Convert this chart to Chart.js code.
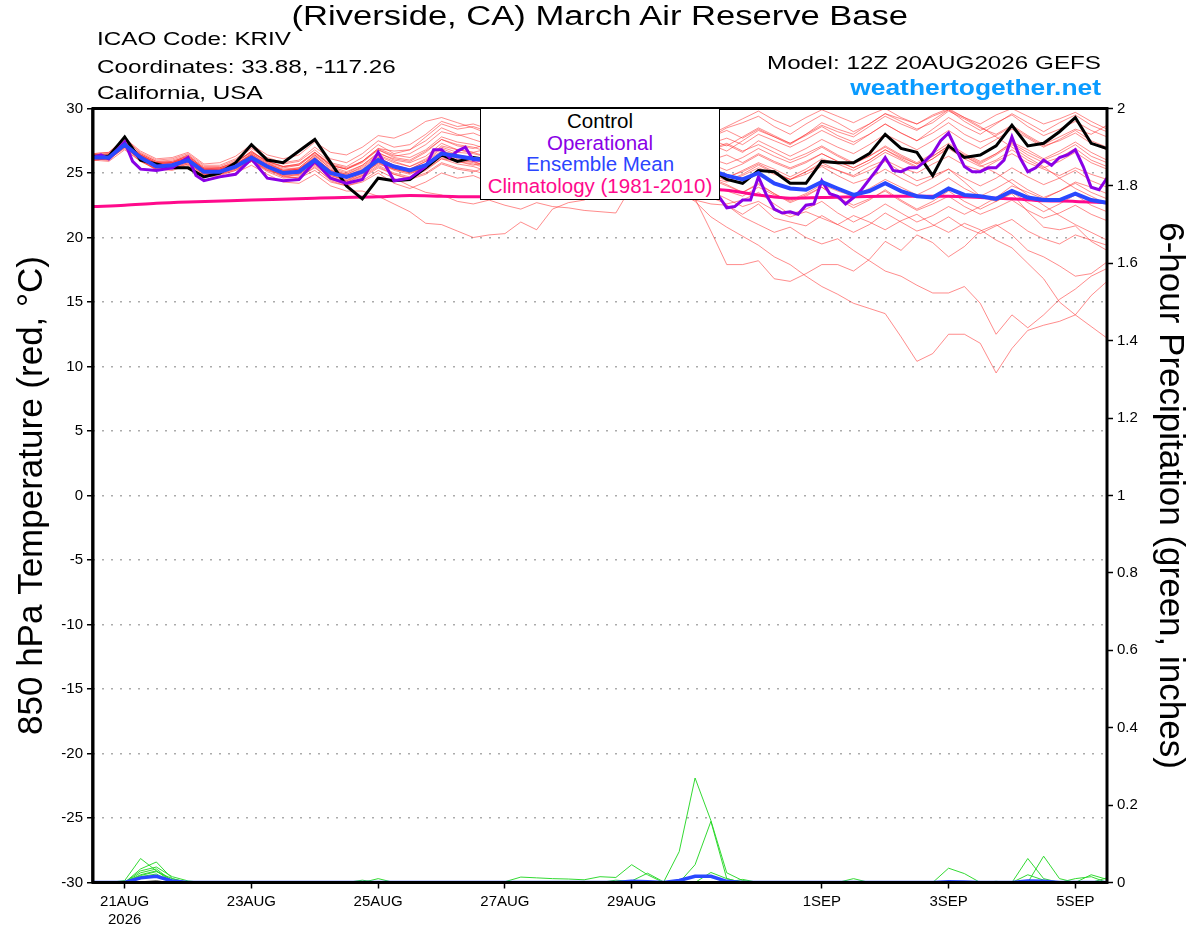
<!DOCTYPE html>
<html>
<head>
<meta charset="utf-8">
<script src="https://cdn.jsdelivr.net/npm/chart.js@4/dist/chart.umd.min.js"></script>
<style>
  html, body { margin:0; padding:0; background:#fff; }
  #wrap { position:relative; width:1200px; height:927px; overflow:hidden; font-family:'Liberation Sans', Arial, sans-serif; }
  #wrap canvas { position:absolute; left:0; top:0; }
  .txt { position:absolute; white-space:nowrap; line-height:1; color:#000; z-index:5; }
  .sx { display:inline-block; }
  #legendBox { position:absolute; left:480px; top:107.5px; width:240px; height:92px; box-sizing:border-box;
    border:1.5px solid #000; background:#fff; z-index:6; text-align:center; font-size:20.5px; line-height:21.5px; padding-top:1.5px; }
</style>
</head>
<body>
<div id="wrap">
  <canvas id="c"></canvas>
  <div class="txt" style="left:0;width:1200px;top:3px;text-align:center;font-size:27px;"><span class="sx" style="transform:scaleX(1.28);transform-origin:center;">(Riverside, CA) March Air Reserve Base</span></div>
  <div class="txt" style="left:97px;top:30px;font-size:18.5px;"><span class="sx" style="transform:scaleX(1.31);transform-origin:left;">ICAO Code: KRIV</span></div>
  <div class="txt" style="left:97px;top:58px;font-size:18.5px;"><span class="sx" style="transform:scaleX(1.31);transform-origin:left;">Coordinates: 33.88, -117.26</span></div>
  <div class="txt" style="left:97px;top:83.5px;font-size:18.5px;"><span class="sx" style="transform:scaleX(1.31);transform-origin:left;">California, USA</span></div>
  <div class="txt" style="right:99px;top:54px;font-size:18.5px;text-align:right;"><span class="sx" style="transform:scaleX(1.31);transform-origin:right;">Model: 12Z 20AUG2026 GEFS</span></div>
  <div class="txt" style="right:99px;top:77px;font-size:22px;font-weight:bold;color:#0a9bff;text-align:right;"><span class="sx" style="transform:scaleX(1.2);transform-origin:right;">weathertogether.net</span></div>
  <div id="legendBox">
    <div style="color:#000">Control</div>
    <div style="color:#8a00e6">Operational</div>
    <div style="color:#2b45ff">Ensemble Mean</div>
    <div style="color:#ff0a8c">Climatology (1981-2010)</div>
  </div>
</div>
<script>
// ---- time axis: index = 6-hour steps from 20AUG2026 12Z (0) to 5SEP2026 12Z (64)
const xTickPos = [2, 10, 18, 26, 34, 46, 54, 62];
const xTickLabels = [['21AUG', '2026'], '23AUG', '25AUG', '27AUG', '29AUG', '1SEP', '3SEP', '5SEP'];

// ---- 850 hPa temperature (deg C)
const controlT = [
  26.3,26.3,27.8,26.0,25.7,25.4,25.4,24.7,
  25.0,25.8,27.2,26.0,25.8,26.7,27.6,25.8,
  24.0,23.0,24.6,24.4,24.5,25.4,26.4,25.9,
  26.2,26.0,26.5,26.1,25.9,26.4,26.8,26.2,
  25.9,26.3,26.6,26.0,25.6,25.4,25.8,25.3,
  24.5,24.2,25.2,25.1,24.2,24.2,25.9,25.8,
  25.8,26.5,28.0,26.9,26.6,24.8,27.1,26.2,
  26.4,27.1,28.7,27.1,27.3,28.2,29.3,27.3,
  26.9];

const meanT = [
  26.2,26.2,27.2,26.2,25.5,25.6,26.0,25.1,
  25.1,25.5,26.2,25.5,25.0,25.1,26.0,25.0,
  24.7,25.1,26.0,25.5,25.2,25.6,26.5,26.3,
  26.1,26.0,25.8,25.7,26.0,25.6,25.4,25.5,
  25.8,25.4,25.2,25.3,25.6,25.3,25.0,25.2,
  24.8,24.5,25.0,24.2,23.8,23.7,24.3,23.8,
  23.3,23.6,24.2,23.6,23.2,23.1,23.8,23.3,
  23.2,23.0,23.6,23.1,22.9,22.9,23.4,22.9,
  22.7];

const operationalX = [0,0.5,1,2,2.5,3,4,5,6,6.5,7,8,9,10,11,12,13,14,15,16,17,18,19,20,21,21.5,22,22.5,23,23.5,24,
  25,26,27,28,29,30,31,32,33,34,35,36,37,38,39,39.5,40,40.5,41,41.5,42,42.5,43,43.5,44,44.5,45,45.5,46,46.5,47,47.5,
  48,48.5,49,49.5,50,50.5,51,51.5,52,52.5,53,53.5,54,54.5,55,55.5,56,56.5,57,57.5,58,58.5,59,59.5,60,60.5,61,61.5,62,62.5,63,63.5,64];
const operationalT = [26.2,26.4,26.1,27.4,25.9,25.3,25.2,25.4,26.2,24.8,24.4,24.7,24.9,26.1,24.6,24.4,24.5,25.9,24.6,24.2,24.5,26.6,24.4,24.6,25.5,26.8,26.8,26.2,26.7,27.0,26.0,
  26.0,26.4,25.8,25.6,26.0,26.6,26.0,25.7,26.1,26.3,25.6,25.2,24.8,24.2,23.6,23.2,22.3,22.4,22.9,22.9,24.7,23.3,22.2,21.9,22.0,21.8,22.5,22.6,24.4,23.4,23.2,22.6,
  23.1,23.7,24.5,25.3,26.2,25.2,25.1,25.4,25.4,25.9,26.5,27.5,28.1,26.8,25.5,25.1,25.1,25.4,25.4,26.0,27.8,26.2,25.1,25.4,26.0,25.6,26.2,26.4,26.8,25.5,23.9,23.7,24.6];

const climX = [0,2,4,6,10,14,18,20,22,24,28,32,36,39.5,42,44,46,50,54,56,58,60,62,64];
const climT = [22.4,22.5,22.65,22.75,22.9,23.05,23.15,23.25,23.2,23.15,23.3,23.45,23.6,23.7,23.3,23.05,23.1,23.2,23.2,23.1,23.0,22.85,22.8,22.7];

// ---- ensemble members (red)
const m01 = [26.4,26.5,27.5,26.4,25.8,25.9,26.3,25.4, 25.4,25.9,26.6,25.9,25.5,25.7,26.6,25.6, 25.3,25.9,26.9,26.7,26.8,27.8,28.8,28.4, 28.6,28.2,27.9,28.3,28.0,27.6,28.1,27.9, 28.4,27.8,27.5,27.9,28.3,27.6,27.2,27.8, 28.5,28.9,29.4,28.6,28.0,28.8,29.5,28.9, 28.2,28.8,29.6,29.0,28.4,28.9,29.8,29.2, 28.5,28.0,28.7,27.9,27.2,27.8,28.4,28.0, 28.7];
const m02 = [26.0,26.1,27.0,26.0,25.2,25.4,25.7,24.9, 24.8,25.2,25.9,25.3,24.8,24.6,25.5,24.4, 24.0,24.3,25.0,24.2,23.8,24.3,25.0,24.6, 24.8,24.3,24.6,24.2,24.5,24.0,23.6,24.1, 24.3,23.8,24.2,23.9,24.1,23.5,22.8,21.6, 20.8,20.1,19.4,18.5,17.9,17.0,16.2,15.6, 14.9,14.5,14.1,12.3,10.4,11.0,12.5,12.5, 11.8,9.5,11.4,12.8,13.2,13.5,14.0,15.5, 16.6];
const m03 = [26.3,26.4,27.3,26.5,25.9,25.8,26.4,25.3, 25.4,25.8,26.7,25.8,25.2,25.4,26.4,25.3, 24.9,25.5,26.4,25.9,25.5,26.0,27.0,26.6, 26.5,26.2,25.9,26.4,26.1,25.7,26.0,25.6, 25.9,25.5,25.2,25.6,25.0,24.2,23.0,20.5, 17.9,17.9,18.2,16.8,16.6,17.2,17.9,17.9, 17.4,18.3,19.7,19.0,20.2,19.6,18.5,19.3, 20.5,21.0,20.2,19.0,18.5,17.8,17.0,17.2, 18.1];
const m04 = [26.1,26.0,27.1,26.1,25.4,25.5,25.9,25.0, 24.9,25.4,26.0,25.2,24.9,25.0,25.8,24.8, 24.4,25.0,25.7,25.3,25.0,25.3,26.1,25.9, 25.6,25.9,25.5,25.2,25.6,25.3,24.9,25.2, 25.5,25.0,24.7,25.1,24.6,24.9,24.2,23.6, 23.0,22.4,22.8,22.1,21.6,22.0,21.5,21.0, 21.7,21.2,20.6,21.3,21.8,21.0,20.4,21.1, 20.6,19.8,19.2,18.0,16.8,15.0,14.0,13.1, 12.2];
const m05 = [26.3,26.2,27.3,26.3,25.6,25.5,26.1,25.2, 25.2,25.4,26.3,25.6,25.1,25.3,26.2,25.2, 24.8,25.2,26.2,25.6,25.3,25.9,26.7,26.4, 26.0,25.7,25.4,25.8,25.5,25.1,25.4,25.0, 24.7,24.3,24.6,24.0,23.7,23.2,22.9,22.6, 22.5,21.6,21.0,20.4,20.8,20.0,19.5,19.9, 19.0,18.2,17.4,17.0,16.3,15.7,15.7,16.2, 14.9,12.5,14.0,13.0,14.0,15.2,16.0,17.0, 17.6];
const m06 = [26.0,25.9,26.8,25.9,25.3,25.2,25.6,24.8, 24.7,25.0,25.6,24.9,24.3,24.2,24.9,24.0, 23.6,23.6,23.2,22.6,22.0,21.1,21.0,20.5, 20.0,20.2,20.3,21.2,20.6,22.2,22.7,22.9, 23.5,24.1,24.5,24.2,24.8,24.4,25.0,24.6, 24.3,24.8,25.4,24.9,24.5,25.1,25.6,25.2, 24.8,25.5,26.0,25.4,25.0,25.7,26.3,25.6, 25.2,25.9,26.5,25.8,25.3,24.8,25.4,24.9, 24.5];
const m07 = [26.4,26.3,27.4,26.3,25.6,25.8,26.2,25.3, 25.2,25.5,26.0,25.4,24.7,24.6,25.2,24.3, 24.0,24.4,25.2,24.6,24.0,23.5,23.3,22.8, 22.6,22.9,22.5,22.2,22.7,22.4,22.3,22.1, 22.0,21.9,24.0,23.6,24.2,24.8,25.3,25.0, 24.6,25.2,25.8,25.3,24.7,25.3,26.1,25.7, 25.2,25.8,26.6,26.0,25.4,26.1,27.0,26.3, 25.7,26.4,27.2,26.4,25.8,26.2,26.9,26.0, 25.5];
const m08 = [26.2,26.3,27.1,26.2,25.5,25.7,26.1,25.1, 25.0,25.6,26.4,25.5,25.0,25.2,26.1,25.1, 24.6,25.0,25.9,25.3,25.0,25.5,26.3,26.0, 25.8,25.4,25.6,25.2,25.7,25.4,25.1,25.5, 25.8,25.2,24.9,25.3,24.8,24.1,23.5,23.4, 22.5,21.8,22.6,21.5,21.2,20.9,21.7,21.0, 20.4,21.0,21.9,21.2,20.5,20.9,21.6,20.8, 20.3,20.9,21.4,20.5,19.9,19.5,20.2,19.8, 19.4];
const m09 = [26.5,26.6,27.6,26.6,26.0,26.1,26.5,25.6, 25.6,26.1,27.0,26.2,25.8,26.0,27.0,26.1, 25.8,26.5,27.5,27.0,27.2,28.0,29.0,28.6, 28.8,28.4,28.0,28.5,28.8,28.2,27.8,28.3, 28.6,28.0,27.6,28.1,28.5,27.9,27.4,28.0, 28.6,29.2,29.8,29.1,28.6,29.3,29.9,29.4, 28.9,29.5,30.0,29.3,28.8,29.4,29.9,29.0, 28.3,28.9,29.5,28.6,27.9,28.4,29.0,28.3, 27.8];
const m10 = [26.2,26.4,27.3,26.4,25.7,25.8,26.2,25.3, 25.3,25.7,26.5,25.8,25.4,25.6,26.5,25.6, 25.3,25.9,26.8,26.3,26.5,27.2,28.2,27.9, 28.1,27.6,27.4,27.8,27.2,26.9,27.3,27.0, 27.4,26.8,26.5,27.0,27.3,26.6,26.2,26.8, 27.2,26.6,27.5,26.9,26.3,26.9,27.6,27.0, 26.5,27.2,28.0,27.4,26.8,27.5,28.3,27.5, 26.9,27.6,28.4,27.7,27.0,27.6,28.3,27.5, 27.0];
const m11 = [26.0,26.1,26.9,25.9,25.3,25.3,25.7,24.9, 24.9,25.3,26.0,25.3,24.8,24.9,25.7,24.8, 24.5,24.9,25.8,25.3,25.1,25.4,26.2,25.9, 25.7,25.3,25.0,25.5,25.8,25.3,24.9,25.4, 25.8,25.3,24.9,25.4,25.7,25.1,24.6,24.0, 23.6,23.2,23.9,23.3,22.9,23.4,24.1,23.6, 23.2,23.8,24.5,23.9,23.3,23.9,24.6,23.8, 23.2,23.8,24.5,23.7,23.1,23.6,24.2,23.5, 23.0];
const m12 = [26.3,26.2,27.2,26.2,25.6,25.6,26.0,25.1, 25.1,25.5,26.3,25.6,25.2,25.3,26.3,25.4, 25.0,25.6,26.5,26.1,25.9,26.6,27.6,27.2, 27.0,26.6,26.2,26.7,27.0,26.5,26.0,26.4, 26.8,26.3,25.9,26.3,26.6,26.0,25.5,26.0, 26.4,25.8,26.5,25.9,25.4,25.9,26.5,25.9, 25.4,26.0,26.8,26.1,25.5,26.1,26.9,26.1, 25.5,26.0,26.8,26.0,25.4,25.9,26.6,25.8, 25.3];
const m13 = [26.1,26.2,27.1,26.1,25.4,25.6,25.9,25.0, 25.0,25.4,26.1,25.4,24.9,24.8,25.6,24.6, 24.3,24.7,25.5,24.9,24.6,25.0,25.8,25.4, 25.2,24.8,25.1,24.7,24.4,24.9,25.3,24.8, 24.5,24.9,25.4,24.8,24.3,24.7,25.2,24.6, 24.1,23.5,24.1,23.4,22.8,23.3,23.9,23.1, 22.5,23.0,23.6,22.8,22.1,22.6,23.2,22.4, 21.8,22.3,22.9,22.1,21.5,21.9,22.5,21.8, 21.3];
const m14 = [26.4,26.5,27.7,26.5,25.9,26.0,26.4,25.5, 25.5,26.0,26.9,26.1,25.7,25.9,26.8,25.8, 25.5,26.2,27.2,26.5,26.8,27.5,28.5,28.0, 27.6,27.2,26.8,27.4,27.9,27.5,27.1,27.6, 28.0,27.4,27.0,27.5,27.8,27.2,26.8,27.3, 27.7,27.2,28.0,27.5,27.0,27.6,28.3,27.7, 27.2,28.0,28.8,28.1,27.5,28.4,29.3,28.6, 28.0,28.8,29.6,28.9,28.2,28.9,29.5,28.7, 28.2];
const m15 = [26.2,26.3,27.4,26.3,25.7,25.7,26.1,25.2, 25.3,25.6,26.5,25.7,25.3,25.4,26.4,25.5, 25.1,25.6,26.6,26.0,25.8,26.3,27.3,26.8, 26.6,26.9,27.3,26.8,26.4,26.9,27.4,26.9, 26.5,27.0,27.6,27.0,26.6,27.1,27.8,27.2, 26.7,27.5,28.3,27.8,27.2,28.0,28.9,28.4, 28.0,28.8,29.6,29.2,28.8,29.5,30.0,29.3, 28.6,27.8,27.0,26.2,25.5,24.6,23.8,23.2, 22.6];
const m16 = [26.1,26.0,27.0,26.0,25.4,25.4,25.8,24.9, 24.9,25.2,25.9,25.1,24.6,24.7,25.4,24.5, 24.1,24.6,25.4,24.9,24.5,24.9,25.7,25.3, 25.1,25.5,25.9,25.3,24.9,25.4,25.9,25.3, 24.9,25.3,25.8,25.2,24.7,25.1,25.5,24.9, 24.4,24.9,25.6,25.0,24.5,25.1,25.8,25.2, 24.7,25.2,25.9,25.1,24.4,24.8,25.3,24.3, 23.2,22.8,23.4,22.0,20.8,20.6,20.9,19.7, 19.0];
const m17 = [26.3,26.2,27.3,26.3,25.5,25.7,26.1,25.2, 25.1,25.5,26.2,25.5,24.9,25.0,25.9,24.9, 24.4,24.8,25.8,25.2,24.9,25.5,26.4,26.0, 25.9,25.5,25.8,26.2,25.7,25.3,25.7,26.1, 25.6,25.2,25.6,26.0,25.5,25.0,25.4,25.1, 24.7,25.1,25.7,25.1,24.5,24.9,25.5,24.8, 24.2,24.6,25.3,24.6,24.0,24.6,25.3,24.6, 24.0,24.6,25.4,24.7,24.1,24.6,25.2,24.4, 23.9];
const m18 = [26.0,26.1,27.0,26.0,25.3,25.5,25.8,25.0, 25.0,25.3,25.9,25.2,24.7,24.9,25.7,24.7, 24.3,24.8,25.6,25.0,24.7,25.2,26.1,25.7, 25.5,25.1,25.4,25.0,24.7,25.1,25.5,25.0, 24.6,25.0,25.4,24.9,24.5,24.0,23.6,23.1, 22.6,22.9,23.5,22.6,21.8,22.2,22.8,21.9, 21.2,21.8,22.6,21.9,21.2,21.7,22.4,21.8, 22.4,23.1,24.0,23.5,23.0,23.6,24.3,23.9, 23.4];
const m19 = [26.5,26.6,27.7,26.7,26.1,26.2,26.6,25.7, 25.8,26.3,27.2,26.4,26.1,26.4,27.4,26.6, 26.4,27.0,27.9,27.7,28.2,29.0,29.3,28.9, 28.5,28.0,27.5,27.9,28.3,27.8,27.3,27.7, 28.1,27.5,27.0,27.4,27.7,27.1,26.5,26.9, 27.3,26.7,27.2,26.6,26.0,26.5,27.1,26.4, 25.8,26.3,27.0,26.3,25.7,26.3,27.1,26.4, 25.8,26.5,27.4,26.8,26.1,26.7,27.4,26.6, 26.0];
const m20 = [26.2,26.1,27.2,26.1,25.5,25.6,25.9,25.1, 25.2,25.6,26.3,25.5,25.0,25.1,25.9,25.0, 24.6,25.1,26.0,25.4,25.1,25.7,26.6,26.1, 25.9,25.4,25.0,25.4,25.7,25.2,24.8,25.2, 25.5,24.9,24.5,24.9,25.2,24.6,24.1,24.5, 24.0,23.5,24.2,23.4,22.7,23.2,23.9,23.0, 22.3,22.9,23.7,22.9,22.2,22.8,23.6,22.8, 22.2,22.8,23.5,22.7,22.0,22.6,23.3,22.5, 22.0];
const m21 = [26.3,26.4,27.4,26.4,25.8,25.9,26.3,25.4, 25.4,25.8,26.6,25.9,25.5,25.7,26.6,25.7, 25.4,25.9,26.9,26.4,26.2,26.8,27.8,27.4, 27.2,26.8,27.1,27.6,27.2,26.8,27.3,27.8, 27.4,26.9,27.3,27.8,27.3,26.8,27.2,27.6, 27.1,27.8,28.5,27.9,27.3,28.0,28.7,28.2, 27.8,28.6,29.4,28.8,28.3,29.1,29.9,29.3, 28.8,29.5,30.0,29.4,28.8,29.2,29.7,29.0, 28.4];
const m22 = [26.1,26.2,27.2,26.2,25.6,25.6,26.1,25.2, 25.2,25.7,26.4,25.6,25.1,25.3,26.2,25.2, 24.9,25.4,26.3,25.8,25.5,26.1,27.1,26.8, 26.6,26.2,26.5,26.1,25.8,26.3,26.7,26.2, 25.8,26.3,26.8,26.2,25.8,26.2,26.7,26.1, 25.7,26.2,26.9,26.3,25.8,26.3,27.0,26.3, 25.7,26.3,27.1,26.4,25.8,26.5,27.3,26.5, 25.9,26.5,27.3,26.6,26.0,26.5,27.2,26.3, 25.8];
const m23 = [26.4,26.3,27.4,26.4,25.7,25.8,26.2,25.3, 25.3,25.7,26.4,25.7,25.2,25.3,26.1,25.2, 24.8,25.3,26.2,25.6,25.3,25.9,26.9,26.4, 26.2,25.8,26.1,25.7,25.4,25.9,26.3,25.8, 25.4,25.8,26.3,25.7,25.3,25.8,26.3,25.7, 25.2,25.7,26.4,25.8,25.3,25.8,26.5,25.9, 25.4,26.0,26.8,26.2,25.7,26.3,27.1,26.3, 25.6,25.0,24.2,23.3,22.5,21.7,21.0,20.4, 19.8];
const m24 = [26.2,26.3,27.3,26.4,25.8,25.8,26.2,25.3, 25.3,25.8,26.7,25.9,25.5,25.6,26.6,25.6, 25.3,25.8,26.8,26.2,26.0,26.7,27.6,27.1, 26.9,27.3,27.7,27.2,26.8,27.3,27.7,27.2, 26.8,27.2,27.6,27.0,26.6,27.0,27.5,27.8, 28.3,27.7,28.4,27.8,27.3,27.9,28.6,27.9, 27.4,28.0,28.8,28.1,27.5,28.1,28.9,28.0, 27.4,27.9,28.6,27.8,27.1,27.5,28.1,27.3, 26.8];
const memberT = [m01,m02,m03,m04,m05,m06,m07,m08,m09,m10,m11,m12,m13,m14,m15,m16,m17,m18,m19,m20,m21,m22,m23,m24];

// ---- 6-hour precipitation (inches)
const precipMean = [
  0,0,0,0.012,0.016,0.004,0,0, 0,0,0,0,0,0,0,0,
  0,0,0,0,0,0,0,0, 0,0,0,0,0,0,0,0,
  0,0,0.003,0.002,0,0.005,0.016,0.016, 0.003,0,0,0,0,0,0,0,
  0,0,0,0,0,0,0.002,0.001, 0,0,0,0.004,0.003,0,0,0,
  0];
const precipControl = [
  0,0,0,0.002,0.004,0,0,0, 0,0,0,0,0,0,0,0,
  0,0,0,0,0,0,0,0, 0,0,0,0,0,0,0,0,
  0,0,0,0,0,0,0.002,0.001, 0,0,0,0,0,0,0,0,
  0,0,0,0,0,0,0,0, 0,0,0,0,0,0,0,0,
  0];
const g01 = [0,0,0.005,0.062,0.030,0.005,0,0, 0,0,0,0,0,0,0,0, 0,0,0,0,0,0,0,0, 0,0,0,0,0,0,0,0, 0,0,0,0,0,0.080,0.270,0.160, 0.025,0.005,0,0,0,0,0,0, 0,0,0,0,0,0,0,0, 0,0,0,0.062,0.010,0,0,0, 0];
const g02 = [0,0,0,0.035,0.053,0.010,0,0, 0,0,0,0,0,0,0,0, 0,0,0,0,0,0,0,0, 0,0,0,0,0,0,0,0, 0,0,0,0,0,0,0.046,0.158, 0.010,0,0,0,0,0,0,0, 0,0,0,0,0,0,0.037,0.023, 0,0,0,0,0,0,0,0, 0];
const g03 = [0,0,0,0.030,0.040,0.015,0.004,0, 0,0,0,0,0,0,0,0, 0,0,0,0,0,0,0,0, 0,0,0.002,0.014,0.012,0.010,0.009,0.007, 0.015,0.013,0.046,0.020,0,0,0,0, 0,0,0,0,0,0,0,0, 0,0,0,0,0,0,0,0, 0,0,0,0,0.068,0.010,0,0.020, 0.008];
const g04 = [0,0,0,0.025,0.035,0.004,0,0, 0,0,0,0,0,0,0,0, 0,0,0,0,0,0,0,0, 0,0,0,0,0,0,0,0, 0,0,0.004,0.024,0.002,0,0,0.026, 0.010,0,0,0,0,0,0,0, 0.010,0,0,0,0,0,0,0, 0,0,0,0,0,0,0,0, 0];
const g05 = [0,0,0,0.020,0.030,0,0,0, 0,0,0,0,0,0,0,0, 0,0,0.010,0,0,0,0,0, 0,0,0,0,0,0,0,0, 0,0,0,0,0,0,0,0, 0,0,0,0,0,0,0,0, 0,0,0,0,0,0,0,0, 0,0,0,0.020,0.006,0,0.010,0.015, 0];
const g06 = [0,0,0,0.018,0.028,0.010,0,0, 0,0,0,0,0,0,0,0, 0,0,0,0,0,0,0,0, 0,0,0,0,0,0,0,0, 0,0,0,0,0,0,0,0, 0,0.008,0,0,0,0,0,0, 0,0,0,0,0,0,0,0, 0,0,0,0,0,0,0,0, 0.012];
const g07 = [0,0,0.003,0.015,0.022,0,0,0, 0,0,0,0,0,0,0,0, 0,0.006,0,0,0,0,0,0, 0,0,0,0,0,0,0,0, 0,0,0,0,0,0,0,0, 0,0,0,0,0,0,0,0, 0,0,0,0,0,0,0,0, 0,0.003,0,0,0,0,0,0, 0];
const g08 = [0,0,0,0.010,0.018,0,0,0, 0,0,0,0,0,0,0,0, 0,0,0,0,0,0,0,0, 0,0,0,0,0,0,0,0, 0,0.006,0.003,0,0,0,0,0, 0,0,0,0,0,0,0,0, 0,0,0,0,0,0,0,0, 0,0,0,0,0,0,0,0, 0];
const memberP = [g01,g02,g03,g04,g05,g06,g07,g08];

// ---- build datasets
const xy = arr => arr.map((v, i) => ({x: i, y: v}));
const pairs = (xs, ys) => xs.map((x, i) => ({x: x, y: ys[i]}));
const base = {pointRadius: 0, pointHoverRadius: 0, fill: false, tension: 0, clip: 0};

const datasets = [
  Object.assign({}, base, {label: 'Ensemble Mean', data: xy(meanT), borderColor: '#2a48ff', borderWidth: 4, yAxisID: 'y'}),
  Object.assign({}, base, {label: 'Operational', data: pairs(operationalX, operationalT), borderColor: '#8a00e6', borderWidth: 3, yAxisID: 'y'}),
  Object.assign({}, base, {label: 'Control', data: xy(controlT), borderColor: '#000000', borderWidth: 3, yAxisID: 'y'}),
  Object.assign({}, base, {label: 'Climatology (1981-2010)', data: pairs(climX, climT), borderColor: '#ff0a8c', borderWidth: 3, cubicInterpolationMode: 'monotone', yAxisID: 'y'}),
  Object.assign({}, base, {label: 'Mean precip', data: xy(precipMean), borderColor: '#2a48ff', borderWidth: 3.5, yAxisID: 'y2'}),
  Object.assign({}, base, {label: 'Control precip', data: xy(precipControl), borderColor: '#000000', borderWidth: 1, yAxisID: 'y2'})
];
memberT.forEach((m, k) => datasets.push(Object.assign({}, base, {label: 'Member ' + (k + 1), data: xy(m), borderColor: 'rgba(255,45,45,0.55)', borderWidth: 1, yAxisID: 'y'})));
memberP.forEach((m, k) => datasets.push(Object.assign({}, base, {label: 'Precip member ' + (k + 1), data: xy(m), borderColor: 'rgba(40,215,40,0.95)', borderWidth: 1, yAxisID: 'y2'})));

const framePlugin = {
  id: 'frame',
  afterDraw(chart) {
    const {ctx, chartArea: a} = chart;
    ctx.save();
    ctx.strokeStyle = '#000';
    ctx.lineWidth = 3;
    ctx.strokeRect(a.left, a.top, a.right - a.left, a.bottom - a.top);
    ctx.lineWidth = 1.5;
    ctx.beginPath(); ctx.moveTo(a.left - 1, a.top); ctx.lineTo(a.left - 1, a.bottom); ctx.stroke();
    ctx.restore();
  }
};

Chart.defaults.font.family = "'Liberation Sans', Arial, sans-serif";
Chart.defaults.color = '#000';

new Chart(document.getElementById('c'), {
  type: 'line',
  data: {datasets: datasets},
  plugins: [framePlugin],
  options: {
    responsive: true,
    maintainAspectRatio: false,
    animation: false,
    events: [],
    layout: {padding: {top: 108.5, left: 0, right: 0, bottom: 0}},
    plugins: {legend: {display: false}, tooltip: {enabled: false}, title: {display: false}},
    scales: {
      x: {
        type: 'linear', min: 0, max: 64,
        afterBuildTicks: s => { s.ticks = xTickPos.map(v => ({value: v})); },
        afterFit: s => { s.height = 44.5; },
        ticks: {autoSkip: false, maxRotation: 0, minRotation: 0, padding: 4, font: {size: 15}, color: '#000',
          callback: v => { const k = xTickPos.indexOf(v); return k >= 0 ? xTickLabels[k] : ''; }},
        grid: {drawOnChartArea: false, drawTicks: true, tickLength: 6, tickColor: '#000', tickWidth: 1.5},
        border: {display: false}
      },
      y: {
        position: 'left', min: -30, max: 30,
        afterFit: s => { s.width = 93; },
        ticks: {stepSize: 5, padding: 4, font: {size: 15}, color: '#000'},
        grid: {
          color: c => (c.tick && Math.abs(c.tick.value) < 29.9) ? '#ababab' : 'rgba(0,0,0,0)',
          lineWidth: 1.5, tickColor: '#000', tickLength: 6, tickWidth: 1.5
        },
        border: {display: false, dash: [2, 7]},
        title: {display: true, text: '850 hPa Temperature (red, °C)', font: {size: 35}, color: '#000', padding: {top: 11, bottom: 0}}
      },
      y2: {
        position: 'right', min: 0, max: 2,
        afterFit: s => { s.width = 93; },
        ticks: {stepSize: 0.2, padding: 4, font: {size: 15}, color: '#000',
          callback: v => String(Math.round(v * 10) / 10)},
        grid: {drawOnChartArea: false, tickColor: '#000', tickLength: 6, tickWidth: 1.5},
        border: {display: false},
        title: {display: true, text: '6-hour Precipitation (green, inches)', font: {size: 35}, color: '#000', padding: {top: 9, bottom: 0}}
      }
    }
  }
});
</script>
</body>
</html>
